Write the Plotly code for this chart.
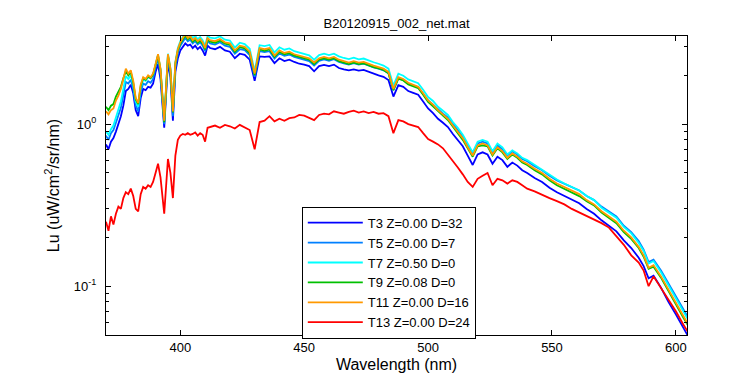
import plotly.graph_objects as go

wavelength = [
    370, 371, 372, 373, 374, 375, 376, 377, 378, 379,
    380, 381, 382, 383, 384, 385, 386, 387, 388, 389,
    390, 391, 392, 393.5, 395, 396, 397, 398, 399, 400,
    401, 402, 403, 404, 405, 406, 407, 408, 409, 410,
    411, 412, 414, 416, 418, 420, 422, 424, 426, 428,
    430, 432, 434, 436, 438, 440, 442, 444, 446, 448,
    450, 452, 454, 456, 458, 460, 462, 464, 466, 468,
    470, 472, 474, 476, 478, 480, 482, 484, 486, 488,
    490, 492, 494, 496, 498, 500, 502, 504, 506, 508,
    510, 512, 514, 516, 518, 520, 522, 524, 526, 528,
    530, 532, 534, 536, 538, 540, 543, 546, 549, 552,
    555, 558, 561, 564, 567, 570, 573, 576, 579, 582,
    585, 587, 589, 591, 594, 597, 600, 603, 605,
]

t3 = [
    0.75, 0.70, 0.78, 0.82, 0.90, 1.00, 1.12, 1.30, 1.60, 1.65,
    1.75, 1.55, 1.22, 1.12, 1.45, 1.65, 1.62, 1.70, 1.68, 1.78,
    2.10, 2.35, 1.90, 0.95, 2.40, 1.95, 1.05, 2.10, 2.55, 2.85,
    3.00, 3.15, 3.05, 3.10, 2.95, 3.05, 2.90, 3.00, 2.85, 2.65,
    3.05, 2.95, 2.90, 3.00, 2.85, 2.80, 2.55, 2.72, 2.68, 2.50,
    1.85, 2.62, 2.60, 2.62, 2.38, 2.55, 2.45, 2.50, 2.42, 2.36,
    2.33, 2.28, 2.12, 2.28, 2.32, 2.28, 2.33, 2.22, 2.18, 2.15,
    2.18, 2.14, 2.16, 2.10, 2.05, 2.00, 1.96, 1.87, 1.48, 1.74,
    1.70, 1.60, 1.56, 1.52, 1.38, 1.25, 1.17, 1.08, 1.02, 0.96,
    0.87, 0.80, 0.73, 0.64, 0.56, 0.65, 0.67, 0.65, 0.57, 0.63,
    0.60, 0.545, 0.58, 0.555, 0.52, 0.50, 0.465, 0.44, 0.405, 0.38,
    0.36, 0.345, 0.325, 0.30, 0.28, 0.255, 0.235, 0.218, 0.192, 0.172,
    0.150, 0.133, 0.112, 0.116, 0.098, 0.080, 0.067, 0.055, 0.049,
]

t5 = [
    0.85, 0.80, 0.88, 0.92, 1.02, 1.12, 1.26, 1.50, 1.82, 1.78,
    1.88, 1.65, 1.30, 1.20, 1.58, 1.78, 1.75, 1.84, 1.80, 1.90,
    2.25, 2.52, 2.05, 1.00, 2.55, 2.08, 1.12, 2.25, 2.75, 3.05,
    3.22, 3.40, 3.25, 3.32, 3.15, 3.25, 3.10, 3.20, 3.05, 2.82,
    3.25, 3.15, 3.10, 3.20, 3.05, 3.00, 2.72, 2.90, 2.86, 2.67,
    1.96, 2.82, 2.78, 2.82, 2.54, 2.73, 2.64, 2.69, 2.60, 2.55,
    2.50, 2.45, 2.30, 2.46, 2.51, 2.46, 2.52, 2.42, 2.37, 2.33,
    2.38, 2.33, 2.36, 2.29, 2.24, 2.20, 2.15, 2.06, 1.62, 1.92,
    1.87, 1.78, 1.74, 1.69, 1.54, 1.40, 1.32, 1.23, 1.16, 1.10,
    1.00, 0.92, 0.84, 0.74, 0.66, 0.76, 0.78, 0.76, 0.67, 0.74,
    0.70, 0.64, 0.68, 0.65, 0.61, 0.59, 0.55, 0.52, 0.48, 0.45,
    0.43, 0.41, 0.39, 0.36, 0.34, 0.31, 0.29, 0.27, 0.236, 0.216,
    0.19, 0.168, 0.141, 0.146, 0.125, 0.104, 0.087, 0.071, 0.064,
]

t7 = [
    0.90, 0.86, 0.93, 0.98, 1.10, 1.22, 1.38, 1.65, 1.98, 1.90,
    2.00, 1.75, 1.38, 1.28, 1.68, 1.88, 1.85, 1.95, 1.92, 2.02,
    2.38, 2.68, 2.18, 1.05, 2.72, 2.22, 1.20, 2.42, 2.95, 3.25,
    3.45, 3.65, 3.50, 3.60, 3.40, 3.50, 3.35, 3.45, 3.30, 3.05,
    3.50, 3.42, 3.38, 3.48, 3.32, 3.28, 2.97, 3.18, 3.12, 2.92,
    2.12, 3.07, 3.03, 3.08, 2.77, 2.98, 2.88, 2.93, 2.82, 2.77,
    2.72, 2.66, 2.50, 2.67, 2.72, 2.67, 2.72, 2.62, 2.56, 2.52,
    2.57, 2.51, 2.54, 2.46, 2.41, 2.36, 2.30, 2.20, 1.73, 2.05,
    1.99, 1.89, 1.84, 1.79, 1.63, 1.47, 1.39, 1.28, 1.21, 1.14,
    1.03, 0.95, 0.86, 0.76, 0.67, 0.78, 0.80, 0.78, 0.68, 0.76,
    0.72, 0.65, 0.69, 0.66, 0.62, 0.60, 0.56, 0.525, 0.485, 0.455,
    0.43, 0.41, 0.39, 0.36, 0.34, 0.305, 0.285, 0.265, 0.232, 0.212,
    0.185, 0.165, 0.138, 0.143, 0.122, 0.101, 0.085, 0.069, 0.062,
]

t9 = [
    1.28, 1.22, 1.30, 1.33, 1.48, 1.60, 1.70, 1.92, 2.12, 2.00,
    2.10, 1.80, 1.42, 1.33, 1.72, 1.92, 1.88, 1.97, 1.92, 2.02,
    2.37, 2.65, 2.16, 1.03, 2.65, 2.16, 1.18, 2.36, 2.85, 3.14,
    3.33, 3.52, 3.33, 3.43, 3.23, 3.33, 3.18, 3.28, 3.14, 2.89,
    3.33, 3.23, 3.18, 3.28, 3.14, 3.09, 2.79, 2.99, 2.94, 2.74,
    2.01, 2.89, 2.84, 2.89, 2.60, 2.79, 2.70, 2.74, 2.65, 2.60,
    2.55, 2.50, 2.35, 2.50, 2.55, 2.50, 2.55, 2.45, 2.40, 2.35,
    2.40, 2.35, 2.37, 2.30, 2.25, 2.21, 2.16, 2.06, 1.62, 1.91,
    1.86, 1.76, 1.72, 1.67, 1.52, 1.37, 1.29, 1.20, 1.13, 1.06,
    0.96, 0.88, 0.80, 0.71, 0.63, 0.73, 0.74, 0.73, 0.64, 0.71,
    0.67, 0.61, 0.65, 0.62, 0.58, 0.56, 0.52, 0.49, 0.45, 0.42,
    0.40, 0.38, 0.36, 0.335, 0.315, 0.285, 0.265, 0.245, 0.216, 0.196,
    0.172, 0.152, 0.128, 0.132, 0.113, 0.093, 0.078, 0.064, 0.057,
]

t11 = [
    1.20, 1.15, 1.22, 1.25, 1.40, 1.50, 1.65, 1.90, 2.20, 2.05,
    2.15, 1.85, 1.45, 1.35, 1.75, 1.95, 1.90, 2.00, 1.95, 2.05,
    2.40, 2.70, 2.20, 1.05, 2.70, 2.20, 1.20, 2.40, 2.90, 3.20,
    3.40, 3.60, 3.40, 3.50, 3.30, 3.40, 3.25, 3.35, 3.20, 2.95,
    3.40, 3.30, 3.25, 3.35, 3.20, 3.15, 2.85, 3.05, 3.00, 2.80,
    2.05, 2.95, 2.90, 2.95, 2.65, 2.85, 2.75, 2.80, 2.70, 2.65,
    2.60, 2.55, 2.40, 2.55, 2.60, 2.55, 2.60, 2.50, 2.45, 2.40,
    2.45, 2.40, 2.42, 2.35, 2.30, 2.25, 2.20, 2.10, 1.65, 1.95,
    1.90, 1.80, 1.75, 1.70, 1.55, 1.40, 1.32, 1.22, 1.15, 1.08,
    0.98, 0.90, 0.82, 0.72, 0.64, 0.74, 0.76, 0.74, 0.65, 0.72,
    0.68, 0.62, 0.66, 0.63, 0.59, 0.57, 0.53, 0.50, 0.46, 0.43,
    0.41, 0.39, 0.37, 0.34, 0.32, 0.29, 0.27, 0.25, 0.22, 0.20,
    0.175, 0.155, 0.13, 0.135, 0.115, 0.095, 0.080, 0.065, 0.058,
]

t13 = [
    0.25, 0.22, 0.27, 0.24, 0.28, 0.31, 0.30, 0.35, 0.38, 0.37,
    0.40, 0.36, 0.30, 0.29, 0.37, 0.41, 0.40, 0.42, 0.41, 0.44,
    0.50, 0.57, 0.47, 0.28, 0.61, 0.50, 0.35, 0.64, 0.80, 0.85,
    0.87, 0.86, 0.88, 0.86, 0.87, 0.89, 0.85, 0.88, 0.86, 0.78,
    0.95, 0.96, 0.98, 0.95, 0.99, 0.97, 0.94, 0.99, 0.95, 0.92,
    0.70, 1.03, 1.05, 1.12, 1.04, 1.08, 1.05, 1.09, 1.10, 1.14,
    1.13, 1.10, 1.06, 1.14, 1.16, 1.15, 1.20, 1.18, 1.16, 1.19,
    1.21, 1.18, 1.20, 1.17, 1.19, 1.16, 1.17, 1.12, 0.88, 1.06,
    1.04, 1.00, 0.98, 0.96, 0.88, 0.81, 0.78, 0.75, 0.71, 0.65,
    0.59, 0.54, 0.49, 0.44, 0.41, 0.46, 0.48, 0.50, 0.42, 0.46,
    0.45, 0.43, 0.45, 0.44, 0.42, 0.40, 0.385, 0.365, 0.35, 0.335,
    0.32, 0.30, 0.285, 0.27, 0.255, 0.245, 0.23, 0.205, 0.18, 0.155,
    0.14, 0.125, 0.10, 0.115, 0.098, 0.082, 0.070, 0.058, 0.052,
]

series_names = ["T3 Z=0.00 D=32", "T5 Z=0.00 D=7", "T7 Z=0.50 D=0",
                "T9 Z=0.08 D=0", "T11 Z=0.00 D=16", "T13 Z=0.00 D=24"]
series_values = [t3, t5, t7, t9, t11, t13]
series_colors = ["#0000FF", "#0080FF", "#00FFFF", "#00C000", "#FF9900", "#FF0000"]

x_ticks = [400, 450, 500, 550, 600]
y_ticks = [0.1, 1]
y_ticktext = ["10<sup>-1</sup>", "10<sup>0</sup>"]
y_minor = [0.05, 0.06, 0.07, 0.08, 0.09, 0.2, 0.3, 0.4, 0.5, 0.6, 0.7, 0.8, 0.9, 2, 3]

fig = go.Figure()
for name, vals, col in zip(series_names, series_values, series_colors):
    fig.add_trace(go.Scatter(x=wavelength, y=vals, mode="lines", name=name,
                             line=dict(color=col, width=1.8)))

FAM = "Liberation Sans, Arial, sans-serif"
font = dict(family=FAM, size=13, color="black")

fig.update_layout(
    width=750, height=375,
    margin=dict(l=98, r=71, t=28, b=44),
    paper_bgcolor="white", plot_bgcolor="white",
    font=font,
    title=dict(text="B20120915_002_net.mat", x=0.5, xref="paper", xanchor="center",
               y=1 - 15 / 375, yref="container", yanchor="middle",
               font=dict(family=FAM, size=13, color="black")),
    legend=dict(x=0.337, y=0.429, xanchor="left", yanchor="top",
                bordercolor="black", borderwidth=1, bgcolor="white",
                font=dict(family=FAM, size=13, color="black"),
                itemwidth=55, tracegroupgap=0),
    showlegend=True,
)

fig.update_xaxes(
    range=[370, 604.5], tickvals=x_ticks, ticks="inside", ticklen=5,
    showline=True, linecolor="black", linewidth=1, mirror="ticks",
    showgrid=False, zeroline=False, tickcolor="black",
    title=dict(text="Wavelength (nm)", standoff=5),
)
fig.update_yaxes(
    type="log", range=[-1.301, 0.544],
    tickvals=y_ticks, ticktext=y_ticktext, ticks="inside", ticklen=5,
    ticklabelstandoff=6,
    minor=dict(tickvals=y_minor, ticks="inside", ticklen=3, tickcolor="black"),
    showline=True, linecolor="black", linewidth=1, mirror="ticks",
    showgrid=False, zeroline=False, tickcolor="black",
    title=dict(text="Lu (uW/cm<sup>2</sup>/sr/nm)", standoff=10),
)

fig.write_html("out.html")
